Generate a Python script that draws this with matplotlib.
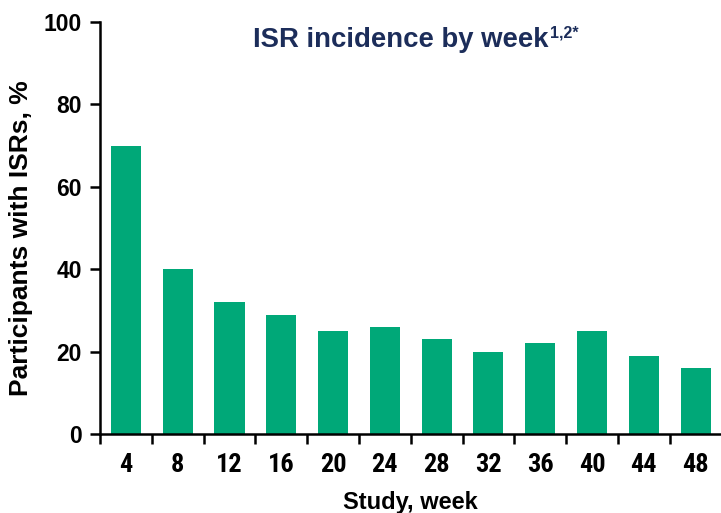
import matplotlib
matplotlib.use("Agg")
import matplotlib.pyplot as plt
import numpy as np
from matplotlib import font_manager

weeks = ["4", "8", "12", "16", "20", "24", "28", "32", "36", "40", "44", "48"]
incidence = [70, 40, 32, 29, 25, 26, 23, 20, 22, 25, 19, 16]
y_ticks = [0, 20, 40, 60, 80, 100]

names = {f.name for f in font_manager.fontManager.ttflist}
narrow = None
for cand in ["Liberation Sans Narrow", "Roboto Condensed", "DejaVu Sans Condensed", "Open Sans Condensed"]:
    if cand in names:
        narrow = cand
        break

plt.rcParams['font.family'] = ['Liberation Sans', 'DejaVu Sans']

fig = plt.figure(figsize=(7.21, 5.13), dpi=100)
ax = fig.add_axes([0.1387, 0.154, 0.862, 0.803])

x = np.arange(len(weeks))
ax.bar(x, incidence, width=0.58, color="#00a878", zorder=2)

ax.set_xlim(-0.5, len(weeks) - 0.5)
ax.set_ylim(0, 100)
ax.set_yticks(y_ticks)
ax.set_yticklabels([str(v) for v in y_ticks], fontsize=16.5, fontweight="bold")
ax.set_xticks(x)
if narrow:
    ax.set_xticklabels(weeks, fontsize=19, fontweight="bold", family=[narrow, 'Liberation Sans'])
else:
    ax.set_xticklabels(weeks, fontsize=15.5, fontweight="bold")
ax.set_xticks(np.arange(-0.5, len(weeks) + 0.5, 1), minor=True)
ax.tick_params(axis="x", which="major", length=0, pad=14)
ax.tick_params(axis="x", which="minor", length=7, width=1.8, direction="out")
ax.tick_params(axis="y", length=7, width=1.8, direction="out", pad=6)

for s in ["top", "right"]:
    ax.spines[s].set_visible(False)
for s in ["left", "bottom"]:
    ax.spines[s].set_linewidth(1.8)

ax.set_ylabel("Participants with ISRs, %", fontsize=19, fontweight="bold")
ax.yaxis.set_label_coords(-0.108, 0.476)
ax.set_xlabel("Study, week", fontsize=17, fontweight="bold", labelpad=10)

t = fig.text(0.5555, 0.922, "ISR incidence by week", ha="center", va="center",
             fontsize=19.8, fontweight="bold", color="#1c2d5a")
ax.annotate("1,2*", xy=(1.0, 1.0), xycoords=t, xytext=(1, 1), textcoords="offset points",
            ha="left", va="top", fontsize=11.5, fontweight="bold", color="#1c2d5a")

fig.savefig("out.png", dpi=100)
